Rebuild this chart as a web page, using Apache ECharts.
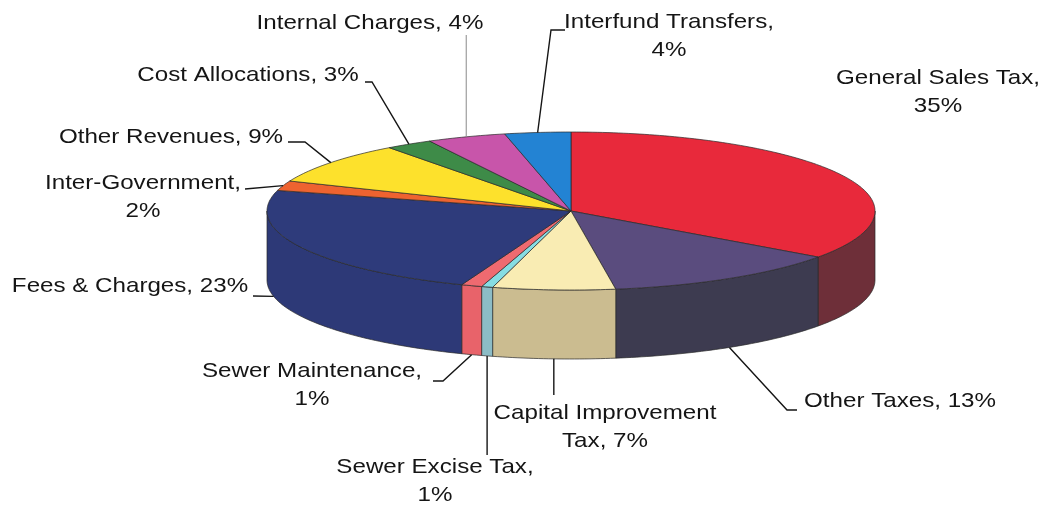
<!DOCTYPE html>
<html><head><meta charset="utf-8">
<script src="https://cdn.jsdelivr.net/npm/echarts@6/dist/echarts.min.js"></script>
<style>html,body{margin:0;padding:0;background:#fff}#c{width:1039px;height:507px}</style>
</head><body><div id="c"></div>
<script>
// ---- data ----
const categories = ['General Sales Tax','Other Taxes','Capital Improvement\nTax','Sewer Excise Tax','Sewer Maintenance','Fees & Charges','Inter-Government','Other Revenues','Cost Allocations','Internal Charges','Interfund Transfers'];
const values = [34.9, 12.75, 6.5, 0.6, 1.1, 23.35, 2.0, 8.6, 2.5, 4.2, 3.5];
const topColors = ['#e8293b','#5a4c7e','#f9ecb3','#86dde3','#ef6a70','#2e3b7b','#ee6330','#fde12c','#3e8b48','#c855aa','#2383d3'];
const sideColors = ['#6e2f39','#3d3b50','#cbbc90','#8cbcc6','#e8636a','#2d3977','#c05028','#c9b322','#2f6a37','#9a3f83','#1a63a0'];

// ---- layout ----
const CX = 571, CY = 211, RX = 304, RY = 79, DEPTH = 69;
const FONT_SIZE = 21, SCALE_X = 1.15, LINE_GAP = 28;
// label layout: text centre of first line, whether pct goes on a new line, leader description
const labelLayout = [
  {x: 938, y: 78, split: true, leader: null},
  {x: 900, y: 401, split: false, leader: {rim: 'bottom', pts: [[797,410],[787,410]]}},
  {x: 605, y: 413, split: false, leader: {rim: 'bottom', vertTo: 395}},
  {x: 435, y: 467, split: true, leader: {rim: 'bottom', vertTo: 455}},
  {x: 312, y: 371, split: true, leader: {rim: 'bottom', pts: [[433,381],[443,381]]}},
  {x: 130, y: 286, split: false, leader: {rim: 'bottom', angle: 258, pts: [[253,296]]}},
  {x: 143, y: 183, split: true, leader: {rim: 'top', pts: [[245,189]]}},
  {x: 171, y: 137, split: false, leader: {rim: 'top', pts: [[288,142],[305,142]]}},
  {x: 248, y: 75, split: false, leader: {rim: 'top', pts: [[365,82],[372,82]]}},
  {x: 370, y: 23, split: false, leader: {rim: 'top', vertTo: 35, light: true}},
  {x: 669, y: 22, split: true, leader: {rim: 'top', pts: [[565,30],[551,30]]}}
];

const total = values.reduce((a, b) => a + b, 0);
const startA = [], endA = [];
let acc = 0;
values.forEach(v => { startA.push(acc / total * 360); acc += v; endA.push(acc / total * 360); });

function pt(deg, dz) {
  const r = deg * Math.PI / 180;
  return [CX + RX * Math.sin(r), CY - RY * Math.cos(r) + (dz || 0)];
}
function arc(a, b, dz) {
  const pts = [];
  const n = Math.max(2, Math.ceil(Math.abs(b - a) / 1));
  for (let k = 0; k <= n; k++) pts.push(pt(a + (b - a) * k / n, dz));
  return pts;
}

function renderItem(params, api) {
  const i = params.dataIndex;
  const a = startA[i], b = endA[i];
  const children = [];
  // side wall (front half only)
  const lo = Math.max(a, 90), hi = Math.min(b, 270);
  if (hi > lo) {
    const pts = arc(lo, hi, 0).concat(arc(hi, lo, DEPTH));
    children.push({type: 'polygon', z2: 1, shape: {points: pts},
      style: {fill: sideColors[i], stroke: '#2a2a2a', lineWidth: 0.7}});
  }
  // top face
  children.push({type: 'polygon', z2: 5, shape: {points: [[CX, CY]].concat(arc(a, b, 0))},
    style: {fill: topColors[i], stroke: '#2a2a2a', lineWidth: 0.7, lineJoin: 'round'}});

  // label
  const L = labelLayout[i];
  const pct = Math.round(values[i] * 100 / total);
  const text = categories[i] + (L.split ? ',\n' : ', ') + pct + '%';
  text.split('\n').forEach((line, k) => {
    children.push({type: 'text', z2: 20, x: L.x, y: L.y + k * LINE_GAP, scaleX: SCALE_X,
      style: {text: line, fill: '#151515', fontSize: FONT_SIZE, fontFamily: '"Liberation Sans", Arial, sans-serif',
        align: 'center', verticalAlign: 'middle'}});
  });
  // leader line
  if (L.leader) {
    const ld = L.leader;
    const ang = ld.angle != null ? ld.angle : (a + b) / 2;
    const anchor = pt(ang, ld.rim === 'bottom' ? DEPTH : 0);
    let pts;
    if (ld.vertTo != null) pts = [[anchor[0], ld.vertTo], anchor];
    else pts = ld.pts.concat([anchor]);
    children.push({type: 'polyline', z2: 15, shape: {points: pts},
      style: {fill: null, stroke: ld.light ? '#8a8a8a' : '#151515', lineWidth: ld.light ? 1 : 1.4}});
  }
  return {type: 'group', children};
}

const chart = echarts.init(document.getElementById('c'), null, {renderer: 'canvas'});
chart.setOption({
  animation: false,
  backgroundColor: '#ffffff',
  series: [{
    type: 'custom',
    coordinateSystem: 'none',
    renderItem: renderItem,
    data: values.map((v, i) => ({value: v, name: categories[i]}))
  }]
});
</script>
</body></html>
